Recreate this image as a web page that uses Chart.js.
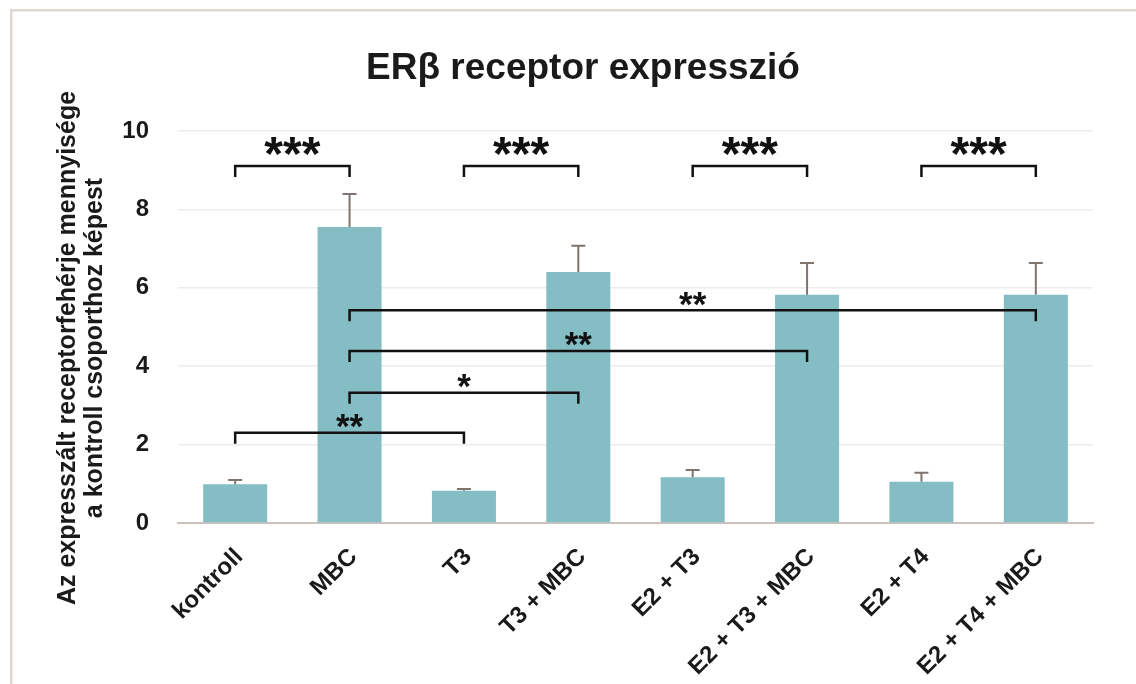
<!DOCTYPE html>
<html>
<head>
<meta charset="utf-8">
<script src="https://cdn.jsdelivr.net/npm/chart.js@4/dist/chart.umd.min.js"></script>
<style>
  html, body { margin: 0; padding: 0; background: #ffffff; }
  #wrap { position: relative; width: 1136px; height: 684px; }
</style>
</head>
<body>
<div id="wrap"><canvas id="c" width="1136" height="684"></canvas></div>
<script>
// ---- data ----
const categories = ['kontroll', 'MBC', 'T3', 'T3 + MBC', 'E2 + T3', 'E2 + T3 + MBC', 'E2 + T4', 'E2 + T4 + MBC'];
const means = [0.99, 7.55, 0.82, 6.40, 1.17, 5.82, 1.05, 5.82];
const errors = [0.11, 0.84, 0.05, 0.67, 0.18, 0.81, 0.23, 0.81];
const yTicks = [0, 2, 4, 6, 8, 10];
const titleText = 'ERβ receptor expresszió';
const yTitleLines = ['Az expresszált receptorfehérje mennyisége', 'a kontroll csoporthoz képest'];
// significance brackets: from category, to category, level (y value), label
const bracketFrom  = [0, 2, 4, 6, 1, 1, 1, 0];
const bracketTo    = [1, 3, 5, 7, 7, 5, 3, 2];
const bracketLevel = [9.11, 9.11, 9.11, 9.11, 5.43, 4.39, 3.32, 2.30];
const bracketLabel = ['***', '***', '***', '***', '**', '**', '*', '**'];

const FONT = '"Liberation Sans", Arial, Helvetica, sans-serif';

const overlayPlugin = {
  id: 'overlay',
  beforeDraw(chart) {
    const ctx = chart.ctx;
    ctx.save();
    ctx.fillStyle = '#ffffff';
    ctx.fillRect(0, 0, chart.width, chart.height);
    ctx.fillStyle = '#ddd8d1';
    ctx.fillRect(10, 9, chart.width - 10, 2.5);
    ctx.fillRect(10, 9, 2.5, chart.height - 9);
    ctx.restore();
  },
  afterDatasetsDraw(chart) {
    const ctx = chart.ctx;
    const x = chart.scales.x, y = chart.scales.y;
    ctx.save();
    // error bars (upper only)
    ctx.strokeStyle = '#7f756e';
    ctx.lineWidth = 2;
    means.forEach((m, i) => {
      const px = x.getPixelForValue(i);
      const y0 = y.getPixelForValue(m);
      const y1 = y.getPixelForValue(m + errors[i]);
      ctx.beginPath();
      ctx.moveTo(px, y0);
      ctx.lineTo(px, y1);
      ctx.moveTo(px - 7, y1);
      ctx.lineTo(px + 7, y1);
      ctx.stroke();
    });
    // brackets
    ctx.strokeStyle = '#111111';
    ctx.fillStyle = '#111111';
    ctx.lineWidth = 2.5;
    ctx.lineCap = 'butt';
    bracketFrom.forEach((a, k) => {
      const xa = x.getPixelForValue(a);
      const xb = x.getPixelForValue(bracketTo[k]);
      const yl = y.getPixelForValue(bracketLevel[k]);
      ctx.beginPath();
      ctx.moveTo(xa, yl + 11);
      ctx.lineTo(xa, yl);
      ctx.lineTo(xb, yl);
      ctx.lineTo(xb, yl + 11);
      ctx.stroke();
      const big = bracketLabel[k].length === 3;
      ctx.font = 'bold ' + (big ? 48 : 35) + 'px ' + FONT;
      ctx.textAlign = 'center';
      ctx.textBaseline = 'alphabetic';
      const m = ctx.measureText(bracketLabel[k]);
      const glyphMid = (m.actualBoundingBoxAscent - m.actualBoundingBoxDescent) / 2;
      const centerY = yl - (big ? 19.5 : 11.5);
      ctx.fillText(bracketLabel[k], (xa + xb) / 2, centerY + glyphMid);
    });
    ctx.restore();
  },
  afterDraw(chart) {
    const ctx = chart.ctx;
    ctx.save();
    ctx.fillStyle = '#1a1a1a';
    ctx.font = 'bold 25px ' + FONT;
    ctx.textAlign = 'center';
    ctx.textBaseline = 'alphabetic';
    const cy = 348;
    const baselines = [75, 102];
    yTitleLines.forEach((t, i) => {
      ctx.save();
      ctx.translate(baselines[i], cy);
      ctx.rotate(-Math.PI / 2);
      ctx.fillText(t, 0, 0);
      ctx.restore();
    });
    ctx.restore();
  }
};

new Chart(document.getElementById('c'), {
  type: 'bar',
  data: {
    labels: categories,
    datasets: [{
      data: means,
      backgroundColor: '#85bdc5',
      borderWidth: 0,
      categoryPercentage: 1.0,
      barPercentage: 0.56
    }]
  },
  options: {
    responsive: false,
    animation: false,
    devicePixelRatio: 1,
    layout: { padding: { left: 73, right: 43, top: 47, bottom: 0 } },
    plugins: {
      legend: { display: false },
      tooltip: { enabled: false },
      title: {
        display: true,
        text: titleText,
        color: '#1a1a1a',
        font: { family: FONT, size: 37, weight: 'bold' },
        padding: { top: 0, bottom: 39.6 }
      }
    },
    scales: {
      x: {
        grid: { display: false, drawTicks: false },
        border: { display: true, color: '#cbc2bb', width: 2 },
        ticks: {
          color: '#1a1a1a',
          font: { family: FONT, size: 24, weight: 'bold' },
          minRotation: 45,
          maxRotation: 45,
          autoSkip: false,
          padding: 20,
          labelOffset: 4
        },
        afterFit(scale) { scale.height = 161; }
      },
      y: {
        min: 0,
        max: 10,
        afterBuildTicks(scale) { scale.ticks = yTicks.map(v => ({ value: v })); },
        grid: { color: '#ececec', lineWidth: 1.5, drawTicks: false },
        border: { display: false },
        ticks: {
          color: '#1a1a1a',
          font: { family: FONT, size: 24, weight: 'bold' },
          padding: 29
        },
        afterFit(scale) { scale.width = 105; }
      }
    }
  },
  plugins: [overlayPlugin]
});
</script>
</body>
</html>
